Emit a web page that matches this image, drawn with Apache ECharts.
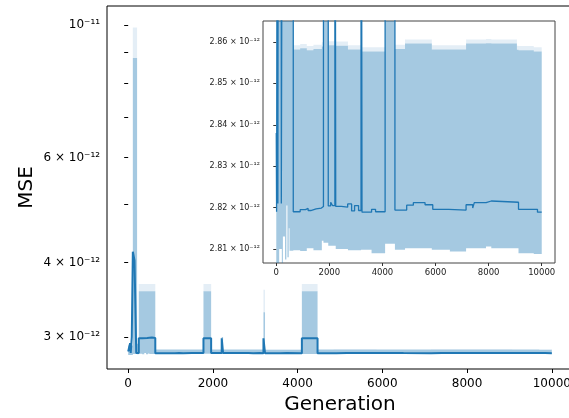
<!DOCTYPE html>
<html>
<head>
<meta charset="utf-8">
<script src="https://cdn.jsdelivr.net/npm/echarts@6.0.0/dist/echarts.min.js"></script>
<style>
  html, body { margin: 0; padding: 0; background: #fff; }
  #chart { width: 569px; height: 418px; }
</style>
</head>
<body>
<div id="chart"></div>
<script>
// all MSE values in units of 1e-12
const meanGen = [0, 12, 45, 60, 85, 110, 150, 190, 250, 330, 450, 560, 640, 900, 1100, 1200, 1300, 1500, 1700,
  1777, 1958, 2050, 2120, 2208, 2240, 2450, 2690, 2838, 2950, 3100, 3193, 3230, 3590, 3740, 4100, 4470,
  4913, 5163, 5605, 5895, 6500, 7150, 7400, 7460, 7905, 8100, 9125, 9840, 10000]
const meanVal = [2.838, 2.819, 2.93, 2.821, 3.0, 4.17, 4.03, 2.821, 2.985, 2.99, 2.995, 2.99, 2.819, 2.8195, 2.8198, 2.8193, 2.8197, 2.8199, 2.8203,
  2.985, 2.8204, 2.8213, 2.8205, 2.985, 2.8203, 2.8201, 2.8209, 2.8192, 2.8205, 2.8193, 2.985, 2.8189, 2.8196, 2.819, 2.985, 2.8194,
  2.8206, 2.8212, 2.8207, 2.8196, 2.8194, 2.8207, 2.8199, 2.8212, 2.8216, 2.8213, 2.8196, 2.8189, 2.8189]

const bandGen = [0, 110, 210, 250, 330, 380, 420, 470, 500, 640, 900, 1150, 1400, 1717, 1777, 1958, 2208, 2240, 2700,
  3193, 3230, 3590, 4100, 4470, 4850, 5860, 6540, 7150, 7900, 8100, 9065, 9125, 9700, 10000]
const bandLow = [2.80, 2.81, 2.806, 2.813, 2.8075, 2.8205, 2.808, 2.815, 2.8096, 2.8097, 2.8095, 2.8102, 2.8097, 2.812, 2.8115, 2.8108, 2.8108, 2.81, 2.8097,
  2.8098, 2.8098, 2.809, 2.8113, 2.8098, 2.8102, 2.8098, 2.8094, 2.8102, 2.8106, 2.8102, 2.8102, 2.809, 2.8088, 2.8088]
const bandHigh = [2.90, 8.8, 2.92, 3.58, 3.58, 3.58, 3.58, 3.58, 3.58, 2.8582, 2.8585, 2.858, 2.8583, 2.8589, 3.58, 2.8592, 3.0, 2.8591, 2.8582,
  3.3, 2.8577, 2.8577, 3.58, 2.8583, 2.8596, 2.8582, 2.8582, 2.8596, 2.8597, 2.8596, 2.8581, 2.858, 2.8577, 2.8577]
// rare high samples: faint fringe above the band
const bandPeak = [2.91, 9.9, 2.93, 3.68, 3.68, 3.68, 3.68, 3.68, 3.68, 2.8592, 2.8595, 2.859, 2.8593, 2.8599, 3.68, 2.8602, 3.0, 2.8601, 2.8592,
  3.6, 2.8587, 2.8587, 3.68, 2.8593, 2.8606, 2.8592, 2.8592, 2.8606, 2.8607, 2.8606, 2.8591, 2.859, 2.8587, 2.8587]

const xTicks = [0, 2000, 4000, 6000, 8000, 10000]
const mainYLabels = [3, 4, 6, 10]
const mainYTicks = [3, 4, 5, 6, 7, 8, 9, 10]
const insetYTicks = [2.81, 2.82, 2.83, 2.84, 2.85, 2.86]

const font = 'DejaVu Sans'
const blue = '#1f77b4'
const bandColor = 'rgba(31,119,180,0.4)'
const fringeColor = 'rgba(31,119,180,0.12)'

const meanData = meanGen.map((g, i) => [g, meanVal[i]])
const bandData = bandGen.map((g, i) => [g, bandLow[i], bandHigh[i]])
const fringeData = bandGen.map((g, i) => [g, bandHigh[i], bandPeak[i]])

// fill_between drawn as one stepped polygon, points placed by the axes
function bandSeries (idx, data, color) {
  return {
    type: 'custom', coordinateSystem: 'cartesian2d',
    xAxisIndex: idx, yAxisIndex: idx,
    data, encode: { x: 0, y: [1, 2] },
    clip: true, silent: true,
    renderItem (params, api) {
      if (params.dataIndex !== 0) return
      const top = []
      const bottom = []
      for (let i = 0; i < data.length; i++) {
        const g0 = data[i][0]
        const g1 = i + 1 < data.length ? data[i + 1][0] : g0
        top.push(api.coord([g0, data[i][2]]), api.coord([g1, data[i][2]]))
        bottom.push(api.coord([g0, data[i][1]]), api.coord([g1, data[i][1]]))
      }
      return {
        type: 'polygon',
        shape: { points: top.concat(bottom.reverse()) },
        style: { fill: color }
      }
    }
  }
}

function meanSeries (idx, width) {
  return {
    type: 'line', xAxisIndex: idx, yAxisIndex: idx, step: 'end',
    data: meanData, showSymbol: false, silent: true,
    lineStyle: { color: blue, width }
  }
}

const sup12 = ' × 10⁻¹²'

const option = {
  animation: false,
  grid: [
    { left: 107, top: 6, width: 466, height: 363, outerBoundsMode: 'none', show: true, borderColor: '#000', borderWidth: 1, backgroundColor: '#fff' },
    { left: 263, top: 21, width: 292, height: 242, outerBoundsMode: 'none', show: true, borderColor: '#444', borderWidth: 1, backgroundColor: '#fff' }
  ],
  xAxis: [
    {
      gridIndex: 0, type: 'value', min: -500, max: 10500,
      splitLine: { show: false },
      axisLine: { show: false },
      axisTick: { show: true, length: 4, customValues: xTicks, lineStyle: { color: '#000' } },
      axisLabel: { customValues: xTicks, fontSize: 12, color: '#000', margin: 9, fontFamily: font, formatter: v => String(v) },
      name: 'Generation', nameLocation: 'middle', nameGap: 24,
      nameTextStyle: { fontSize: 20, color: '#000', fontFamily: font }
    },
    {
      gridIndex: 1, type: 'value', min: -500, max: 10500,
      splitLine: { show: false },
      axisLine: { show: false },
      axisTick: { show: true, length: 3, customValues: xTicks, lineStyle: { color: '#333' } },
      axisLabel: { customValues: xTicks, fontSize: 8.5, color: '#222', margin: 5, fontFamily: font, formatter: v => String(v) }
    }
  ],
  yAxis: [
    {
      gridIndex: 0, type: 'log', logBase: 10, min: 2.652, max: 10.76,
      splitLine: { show: false },
      minorTick: { show: false },
      axisLine: { show: false },
      axisTick: { show: true, length: 4, customValues: mainYTicks, lineStyle: { color: '#000' } },
      axisLabel: {
        customValues: mainYLabels, fontSize: 12, color: '#000', margin: 7, fontFamily: font,
        formatter: v => (Math.abs(v - 10) < 1e-6 ? '10⁻¹¹' : Math.round(v) + sup12)
      },
      name: 'MSE', nameLocation: 'middle', nameGap: 70, nameMoveOverlap: false,
      nameTextStyle: { fontSize: 20, color: '#000', fontFamily: font }
    },
    {
      gridIndex: 1, type: 'value', min: 2.80663, max: 2.86506,
      splitLine: { show: false },
      axisLine: { show: false },
      axisTick: { show: true, length: 3, customValues: insetYTicks, lineStyle: { color: '#333' } },
      axisLabel: {
        customValues: insetYTicks, fontSize: 8, color: '#222', margin: 3, fontFamily: font,
        formatter: v => v.toFixed(2) + sup12
      }
    }
  ],
  series: [
    bandSeries(0, fringeData, fringeColor),
    bandSeries(0, bandData, bandColor),
    meanSeries(0, 2),
    bandSeries(1, fringeData, fringeColor),
    bandSeries(1, bandData, bandColor),
    meanSeries(1, 1.3)
  ]
}

const myChart = echarts.init(document.getElementById('chart'))
myChart.setOption(option)
</script>
</body>
</html>
